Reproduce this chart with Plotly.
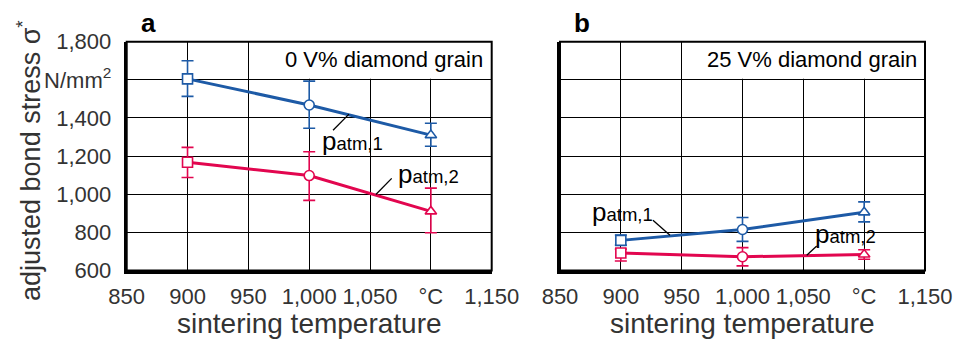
import plotly.graph_objects as go

# ---------------- data ----------------
temps = [900, 1000, 1100]

a_patm1 = [1605, 1468, 1310]
a_patm1_plus = [95, 125, 62]
a_patm1_minus = [92, 122, 58]
a_patm2 = [1168, 1098, 910]
a_patm2_plus = [78, 125, 122]
a_patm2_minus = [80, 130, 112]

b_patm1 = [758, 815, 905]
b_patm1_plus = [28, 63, 55]
b_patm1_minus = [25, 62, 50]
b_patm2 = [692, 672, 684]
b_patm2_plus = [20, 48, 25]
b_patm2_minus = [42, 48, 25]

marker_symbols = ["square", "circle", "triangle-up"]

x_tickvals = [850, 900, 950, 1000, 1050, 1100, 1150]
x_ticktext = ["850", "900", "950", "1,000", "1,050", "°C", "1,150"]
y_tickvals = [600, 800, 1000, 1200, 1400, 1600, 1800]
y_ticktext = ["600", "800", "1,000", "1,200", "1,400", "N/mm<sup>2</sup>", "1,800"]

BLUE = "#1d5aa6"
RED = "#e2064f"
FONT = "Liberation Sans, Arial, sans-serif"
GRAY = "#333333"

# the page body has an 8px margin: draw everything shifted by it
OFF = 8
W, H = 965 - OFF, 343 - OFF
# plot-area pixel boxes (in window coordinates)
LX0, LX1 = 126.7, 491.7
RX0, RX1 = 560.0, 925.0
PY0, PY1 = 41.7, 270.5


def px(x):
    return (x - OFF) / W


def py(y):
    return (H - (y - OFF)) / H


fig = go.Figure()


def add_series(xa, ya, vals, plus, minus, color):
    fig.add_trace(go.Scatter(
        x=temps, y=vals, xaxis=xa, yaxis=ya, mode="lines+markers",
        line=dict(color=color, width=3),
        marker=dict(symbol=marker_symbols, size=10, color="white",
                    line=dict(color=color, width=1.6)),
        error_y=dict(type="data", symmetric=False, array=plus, arrayminus=minus,
                     color=color, thickness=1.6, width=6),
        showlegend=False, cliponaxis=False,
    ))


add_series("x", "y", a_patm1, a_patm1_plus, a_patm1_minus, BLUE)
add_series("x", "y", a_patm2, a_patm2_plus, a_patm2_minus, RED)
add_series("x2", "y2", b_patm1, b_patm1_plus, b_patm1_minus, BLUE)
add_series("x2", "y2", b_patm2, b_patm2_plus, b_patm2_minus, RED)

xcommon = dict(range=[850, 1150], tickvals=x_tickvals, ticktext=x_ticktext,
               showgrid=True, gridcolor="black", gridwidth=1.3, zeroline=False,
               showline=True, linecolor="black", linewidth=3, mirror=False,
               ticks="", tickfont=dict(family=FONT, size=22, color=GRAY),
               automargin=False, fixedrange=True, ticklabelstandoff=4)
ycommon = dict(range=[600, 1800], tickvals=y_tickvals, ticktext=y_ticktext,
               showgrid=True, gridcolor="black", gridwidth=1.3, zeroline=False,
               showline=True, linecolor="black", linewidth=3, mirror=False,
               ticks="", tickfont=dict(family=FONT, size=22, color=GRAY),
               automargin=False, fixedrange=True)

fig.update_layout(
    width=W, height=H,
    margin=dict(l=0, r=0, t=0, b=0),
    paper_bgcolor="white", plot_bgcolor="white",
    template="none",
    xaxis=dict(xcommon, domain=[px(LX0), px(LX1)], anchor="y"),
    yaxis=dict(ycommon, domain=[py(PY1), py(PY0)], anchor="x", ticklabelstandoff=8),
    xaxis2=dict(xcommon, domain=[px(RX0), px(RX1)], anchor="y2"),
    yaxis2=dict(ycommon, domain=[py(PY1), py(PY0)], anchor="x2", showticklabels=False),
)

shapes = []
for xr, yr in [("x", "y"), ("x2", "y2")]:
    # white box behind the condition label (covers the grid in the top-right cells)
    shapes.append(dict(type="rect", xref=xr, yref=yr, x0=956, x1=1150, y0=1606, y1=1800,
                       fillcolor="white", line=dict(width=0), layer="between"))
    # thinner top/right frame
    shapes.append(dict(type="rect", xref=f"{xr} domain", yref=f"{yr} domain",
                       x0=0, x1=1, y0=0, y1=1, line=dict(color="black", width=2),
                       layer="above"))

# leader lines for series labels (data coordinates)
leaders = [
    ("x", "y", 1019.6, 1336, 1032.7, 1420),
    ("x", "y", 1054.8, 999, 1067.8, 1083),
    ("x2", "y2", 926.4, 864, 940.4, 785),
    ("x2", "y2", 1052.8, 680, 1061, 728),
]
for xr, yr, x0, y0, x1, y1 in leaders:
    shapes.append(dict(type="line", xref=xr, yref=yr, x0=x0, y0=y0, x1=x1, y1=y1,
                       line=dict(color="black", width=1.3), layer="above"))

fig.update_layout(shapes=shapes)


def plabel(sub):
    return f"p<span style='font-size:18.5px'>{sub}</span>"


ann = []
# series labels
for xr, yr, x, y, t in [
    ("x", "y", 1008.9, 1279, plabel("atm,1")),
    ("x", "y", 1071.3, 1105, plabel("atm,2")),
    ("x2", "y2", 874.7, 906, plabel("atm,1")),
    ("x2", "y2", 1058, 790, plabel("atm,2")),
]:
    ann.append(dict(xref=xr, yref=yr, x=x, y=y, text=t, showarrow=False,
                    xanchor="left", yanchor="middle",
                    font=dict(family=FONT, size=26, color="black")))

# condition labels
ann.append(dict(xref="paper", yref="paper", x=px(485), y=py(59), text="0 V% diamond grain",
                showarrow=False, xanchor="right", yanchor="middle",
                font=dict(family=FONT, size=22, color="black")))
ann.append(dict(xref="paper", yref="paper", x=px(919), y=py(59), text="25 V% diamond grain",
                showarrow=False, xanchor="right", yanchor="middle",
                font=dict(family=FONT, size=22, color="black")))

# panel letters
ann.append(dict(xref="paper", yref="paper", x=px(148), y=py(23), text="<b>a</b>",
                showarrow=False, xanchor="center", yanchor="middle",
                font=dict(family=FONT, size=26, color="black")))
ann.append(dict(xref="paper", yref="paper", x=px(582), y=py(23), text="<b>b</b>",
                showarrow=False, xanchor="center", yanchor="middle",
                font=dict(family=FONT, size=26, color="black")))

# axis titles
for cx in [(LX0 + LX1) / 2, (RX0 + RX1) / 2]:
    ann.append(dict(xref="paper", yref="paper", x=px(cx), y=py(323),
                    text="sintering temperature", showarrow=False,
                    xanchor="center", yanchor="middle",
                    font=dict(family=FONT, size=28, color=GRAY)))
ann.append(dict(xref="paper", yref="paper", x=px(29), y=py(161),
                text="adjusted bond stress σ<sup>*</sup>", showarrow=False,
                textangle=-90, xanchor="center", yanchor="middle",
                font=dict(family=FONT, size=27, color=GRAY)))

fig.update_layout(annotations=ann)

fig.write_html("out.html")
